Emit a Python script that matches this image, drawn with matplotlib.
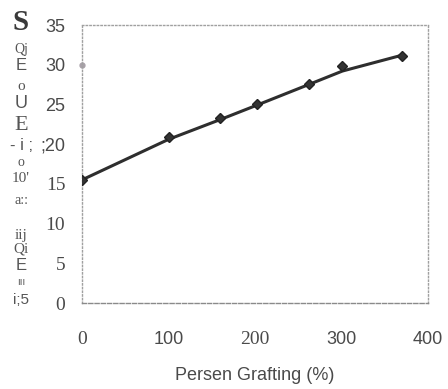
import matplotlib.pyplot as plt
import numpy as np

# data
grafting = [0, 100, 160, 202, 262, 301, 370]
values = [15.5, 20.9, 23.3, 25.1, 27.6, 29.8, 31.1]
# the drawn line is a smooth fit, slightly off some markers
line_y = [15.5, 20.6, 23.1, 24.9, 27.5, 29.2, 31.2]
stray_x = [0]
stray_y = [30]

yticks = [0, 5, 10, 15, 20, 25, 30, 35]
ytick_labels = ['0', '5', '10', '15', ';20', '25', '30', '35']
xticks = [0, 100, 200, 300, 400]
xtick_labels = ['0', '100', '200', '300', '400']

# garbled (OCR'd) y-axis title pieces, top to bottom
ylabel_bits = ['S', 'Qj', 'E', 'o', 'U', 'E', '- i ;', 'o', "10'", 'a::', 'iij', 'Qi', 'E', 'ııı', 'i;5']

W, H = 448, 389
fig = plt.figure(figsize=(W / 100, H / 100), dpi=100)
ax = fig.add_axes([82 / W, 1 - 303 / H, 346 / W, 278 / H])

ax.plot(grafting, line_y, color='#2e2e2e', lw=2.2, zorder=3)
ax.plot(grafting, values, ls='none', marker='D', ms=5.5,
        markerfacecolor='#333333', markeredgecolor='#222222', zorder=4)
ax.plot(stray_x, stray_y, 'o', color='#a8a0a8', ms=3.5, clip_on=False)

ax.set_xlim(0, 400)
ax.set_ylim(0, 35)
for side in ['top', 'left', 'right']:
    ax.spines[side].set_linestyle(':')
    ax.spines[side].set_color('#a0a0a0')
    ax.spines[side].set_linewidth(1.0)
ax.spines['bottom'].set_linestyle((0, (3, 1.5)))
ax.spines['bottom'].set_color('#8a8a8a')
ax.spines['bottom'].set_linewidth(1.0)

ax.set_yticks(yticks)
ax.set_yticklabels(ytick_labels)
ax.set_xticks(xticks)
ax.set_xticklabels(xtick_labels)
ax.tick_params(axis='y', length=0, pad=12, labelsize=13, labelcolor='#4a4a4a')
ax.tick_params(axis='x', length=0, pad=20, labelsize=13, labelcolor='#4a4a4a')

serif_y = {'0', '5', '10', '15'}
for lab in ax.get_yticklabels():
    lab.set_family('Liberation Serif' if lab.get_text() in serif_y else 'Liberation Sans')
    if lab.get_text() in serif_y:
        lab.set_fontsize(14)
serif_x = {'0', '200'}
for lab in ax.get_xticklabels():
    lab.set_family('Liberation Serif' if lab.get_text() in serif_x else 'Liberation Sans')
    if lab.get_text() in serif_x:
        lab.set_fontsize(14)

ax.set_xlabel('Persen Grafting (%)', family='Liberation Sans', fontsize=13,
              color='#4a4a4a', labelpad=14)

# scattered y-axis title fragments
ys = [22, 50, 65, 87, 103, 125, 145, 163, 178, 201, 235, 249, 266, 282, 300]
sizes = [21, 10, 12, 11, 13, 16, 12, 10, 11, 10, 11, 11, 12, 7, 11]
fams = ['Liberation Serif', 'Liberation Serif', 'Liberation Sans', 'Liberation Serif',
        'Liberation Sans', 'Liberation Serif', 'Liberation Sans', 'Liberation Serif',
        'Liberation Serif', 'Liberation Serif', 'Liberation Serif', 'Liberation Serif',
        'Liberation Sans', 'Liberation Sans', 'Liberation Sans']
for txt, y, s, f in zip(ylabel_bits, ys, sizes, fams):
    fig.text(21 / W, 1 - y / H, txt, ha='center', va='center', fontsize=s,
             family=f, color='#3a3a3a' if txt == 'S' else '#555555',
             fontweight='bold' if txt == 'S' else 'normal')

fig.savefig('out.png', dpi=100)
